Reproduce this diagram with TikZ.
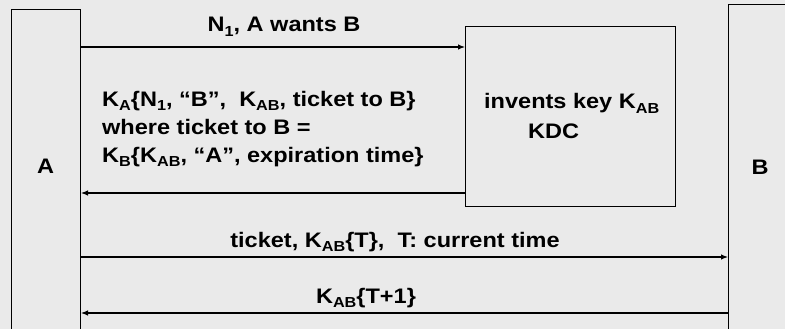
\documentclass[tikz,border=0pt]{standalone}
\usepackage{fontspec}
\setmainfont{Liberation Sans}[FakeStretch=1.12]
\usetikzlibrary{arrows.meta}
\definecolor{bgcol}{RGB}{234,234,234}
\newcommand{\lowsub}[1]{\raisebox{-0.2em}{\fontsize{14.5}{15}\selectfont #1}}
\tikzset{
	box/.style={draw=black, line width=1pt, inner sep=0pt, anchor=north west},
	lbl/.style={inner sep=0pt, font=\fontsize{21}{25}\selectfont\bfseries},
	msg/.style={line width=1.1pt, -{Latex[length=7pt,width=5.5pt]}}
}
\begin{document}
\begin{tikzpicture}[x=1pt,y=-1pt]
		%page
		\clip (0,0) rectangle (785,329);
		\fill[bgcol] (0,0) rectangle (785,329);
		%A
		\node[box, minimum width=69, minimum height=340] (A) at (11,9) {};
		\node[lbl, anchor=base] (la) at (45.5,173.5) {A};
		%B
		\node[box, minimum width=80, minimum height=340] (B) at (728,4) {};
		\node[lbl, anchor=base] (lb) at (760,174) {B};
		%KDC
		\node[box, minimum width=210, minimum height=180] (kdc) at (465,26) {};
		\node[lbl, anchor=base west] (inv) at (484,109) {invents key K\lowsub{AB}};
		\node[lbl, anchor=base west] (lkdc) at (528,138) {KDC};
		%message levels
		\coordinate (y1) at (0,47);
		\coordinate (y2) at (0,193);
		\coordinate (y3) at (0,257);
		\coordinate (y4) at (0,313);
		%A to KDC
		\draw[msg] (A.east |- y1) -- (kdc.west |- y1);
		\node[lbl, anchor=base] (m1) at (284,32) {N\lowsub{1}, A wants B};
		%KDC to A
		\draw[msg] (kdc.west |- y2) -- (A.east |- y2);
		\node[lbl, anchor=base west] (m2a) at (102,106.5) {K\lowsub{A}\{N\lowsub{1}, “B”,\ \ K\lowsub{AB}, ticket to B\}};
		\node[lbl, anchor=base west] (m2b) at (102,134.5) {where ticket to B =};
		\node[lbl, anchor=base west] (m2c) at (102,162.5) {K\lowsub{B}\{K\lowsub{AB}, “A”, expiration time\}};
		%A to B
		\draw[msg] (A.east |- y3) -- (B.west |- y3);
		\node[lbl, anchor=base] (m3) at (395,247) {ticket, K\lowsub{AB}\{T\},\ \ T: current time};
		%B to A
		\draw[msg] (B.west |- y4) -- (A.east |- y4);
		\node[lbl, anchor=base] (m4) at (366,303.5) {K\lowsub{AB}\{T+1\}};
	\end{tikzpicture}
\end{document}
